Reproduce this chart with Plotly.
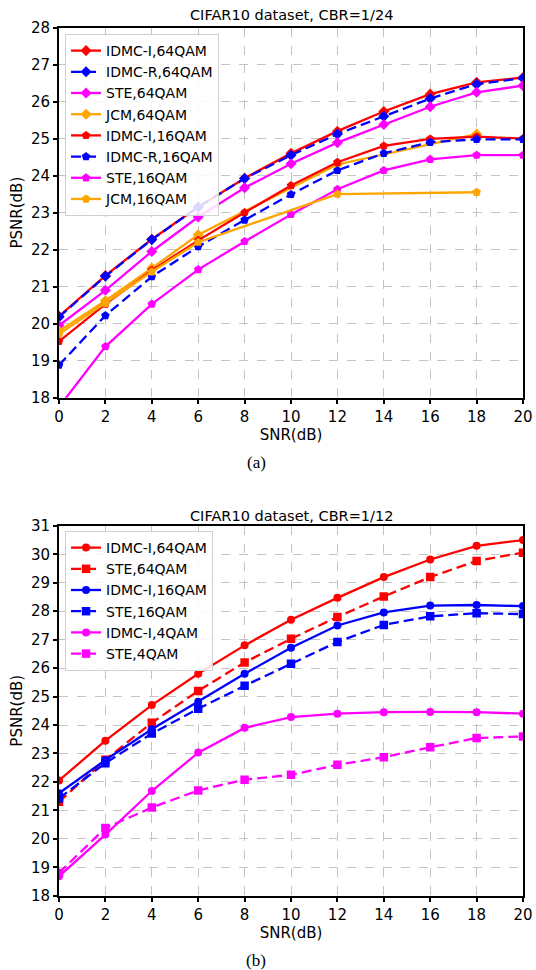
import plotly.graph_objects as go

# ---------------- data ----------------
snr = [0, 2, 4, 6, 8, 10, 12, 14, 16, 18, 20]
jcm_snr = [0, 2, 4, 6, 12, 18]

# (a) CBR = 1/24
a_idmc_i_64 = [20.2, 21.3, 22.28, 23.15, 23.93, 24.6, 25.2, 25.73, 26.2, 26.52, 26.65]
a_idmc_r_64 = [20.18, 21.28, 22.27, 23.15, 23.92, 24.55, 25.12, 25.6, 26.08, 26.47, 26.63]
a_ste_64 = [19.95, 20.9, 21.95, 22.88, 23.67, 24.32, 24.89, 25.38, 25.86, 26.25, 26.43]
a_jcm_64 = [19.8, 20.62, 21.5, 22.4, 24.3, 25.12]
a_idmc_i_16 = [19.52, 20.53, 21.44, 22.25, 23.0, 23.73, 24.36, 24.8, 24.99, 25.05, 25.0]
a_idmc_r_16 = [18.88, 20.22, 21.27, 22.08, 22.8, 23.49, 24.14, 24.6, 24.9, 24.98, 24.98]
a_ste_16 = [17.75, 19.38, 20.53, 21.46, 22.22, 22.95, 23.63, 24.14, 24.44, 24.55, 24.55]
a_jcm_16 = [19.72, 20.55, 21.4, 22.2, 23.5, 23.55]

# (b) CBR = 1/12
b_idmc_i_64 = [22.05, 23.45, 24.7, 25.8, 26.8, 27.7, 28.47, 29.2, 29.82, 30.3, 30.5]
b_ste_64 = [21.3, 22.78, 24.08, 25.2, 26.2, 27.03, 27.8, 28.52, 29.2, 29.77, 30.06]
b_idmc_i_16 = [21.6, 22.77, 23.85, 24.82, 25.8, 26.72, 27.5, 27.96, 28.2, 28.22, 28.18]
b_ste_16 = [21.42, 22.66, 23.7, 24.57, 25.38, 26.15, 26.92, 27.52, 27.82, 27.93, 27.9]
b_idmc_i_4 = [18.68, 20.15, 21.68, 23.03, 23.9, 24.28, 24.4, 24.45, 24.46, 24.45, 24.4]
b_ste_4 = [18.8, 20.38, 21.1, 21.7, 22.08, 22.25, 22.6, 22.87, 23.22, 23.54, 23.6]

title_a = "CIFAR10 dataset, CBR=1/24"
title_b = "CIFAR10 dataset, CBR=1/12"

RED, BLUE, MAG, ORA = "#ff0000", "#0000ff", "#ff00ff", "#ffa500"
DASH = "10px,5px"
FONT = "DejaVu Sans"

fig = go.Figure()


def add(x, y, name, color, symbol, size, dash, xa, ya, legend):
    fig.add_trace(go.Scatter(
        x=x, y=y, name=name, mode="lines+markers",
        line=dict(color=color, width=2.3, dash=dash),
        marker=dict(symbol=symbol, size=size, color=color),
        xaxis=xa, yaxis=ya, legend=legend,
    ))


# top panel
add(snr, a_idmc_i_64, "IDMC-I,64QAM", RED, "diamond", 8.5, "solid", "x", "y", "legend")
add(snr, a_idmc_r_64, "IDMC-R,64QAM", BLUE, "diamond", 8.5, DASH, "x", "y", "legend")
add(snr, a_ste_64, "STE,64QAM", MAG, "diamond", 8.5, "solid", "x", "y", "legend")
add(jcm_snr, a_jcm_64, "JCM,64QAM", ORA, "diamond", 8.5, "solid", "x", "y", "legend")
add(snr, a_idmc_i_16, "IDMC-I,16QAM", RED, "pentagon", 9, "solid", "x", "y", "legend")
add(snr, a_idmc_r_16, "IDMC-R,16QAM", BLUE, "pentagon", 9, DASH, "x", "y", "legend")
add(snr, a_ste_16, "STE,16QAM", MAG, "pentagon", 9, "solid", "x", "y", "legend")
add(jcm_snr, a_jcm_16, "JCM,16QAM", ORA, "pentagon", 9, "solid", "x", "y", "legend")

# bottom panel
add(snr, b_idmc_i_64, "IDMC-I,64QAM", RED, "circle", 8, "solid", "x2", "y2", "legend2")
add(snr, b_ste_64, "STE,64QAM", RED, "square", 8.5, DASH, "x2", "y2", "legend2")
add(snr, b_idmc_i_16, "IDMC-I,16QAM", BLUE, "circle", 8, "solid", "x2", "y2", "legend2")
add(snr, b_ste_16, "STE,16QAM", BLUE, "square", 8.5, DASH, "x2", "y2", "legend2")
add(snr, b_idmc_i_4, "IDMC-I,4QAM", MAG, "circle", 8, "solid", "x2", "y2", "legend2")
add(snr, b_ste_4, "STE,4QAM", MAG, "square", 8.5, DASH, "x2", "y2", "legend2")

H = 970.0
def py(pix):
    return (H - pix) / H

axis_common = dict(
    showline=True, linecolor="black", linewidth=2, mirror=True,
    ticks="outside", ticklen=4, tickwidth=1.5, tickcolor="black",
    showgrid=True, gridcolor="#c4c4c4", griddash="dash", gridwidth=1,
    zeroline=False, automargin=False,
    tickfont=dict(family=FONT, size=15, color="black"),
)

xcommon = dict(axis_common, range=[0, 20], tickmode="array",
               tickvals=snr, ticktext=[str(v) for v in snr])

fig.update_layout(
    width=536, height=970,
    margin=dict(l=59, r=13, t=0, b=0, autoexpand=False),
    paper_bgcolor="white", plot_bgcolor="white",
    font=dict(family=FONT, size=14, color="black"),
    xaxis=dict(xcommon, anchor="y",
               title=dict(text="SNR(dB)", font=dict(size=15), standoff=3)),
    yaxis=dict(axis_common, domain=[py(397.7), py(27.5)], range=[18, 28],
               dtick=1, anchor="x",
               title=dict(text="PSNR(dB)", font=dict(size=15), standoff=5)),
    xaxis2=dict(xcommon, anchor="y2",
                title=dict(text="SNR(dB)", font=dict(size=15), standoff=3)),
    yaxis2=dict(axis_common, domain=[py(895.7), py(525.9)], range=[18, 31],
                dtick=1, anchor="x2",
                title=dict(text="PSNR(dB)", font=dict(size=15), standoff=5)),
    legend=dict(x=0.013, y=py(34), xanchor="left", yanchor="top",
                bgcolor="rgba(255,255,255,0.85)", bordercolor="#d0d0d0",
                borderwidth=1, font=dict(family=FONT, size=14),
                tracegroupgap=0, itemwidth=30),
    legend2=dict(x=0.013, y=py(531), xanchor="left", yanchor="top",
                 bgcolor="rgba(255,255,255,0.85)", bordercolor="#d0d0d0",
                 borderwidth=1, font=dict(family=FONT, size=14),
                 tracegroupgap=0, itemwidth=30),
    showlegend=True,
)

def label(text, xpix, ypix, family, size):
    fig.add_annotation(text=text, x=(xpix - 59) / 464, y=py(ypix),
                       xref="paper", yref="paper", xanchor="center", yanchor="middle",
                       showarrow=False, font=dict(family=family, size=size, color="black"))

label(title_a, 291, 15, FONT, 14.5)
label(title_b, 291, 515.5, FONT, 14.5)
label("(a)", 256, 463, "Liberation Serif", 17)
label("(b)", 256, 960, "Liberation Serif", 17)

fig.write_html("out.html", config={"displayModeBar": False},
               post_script="document.body.style.margin='0px';")
